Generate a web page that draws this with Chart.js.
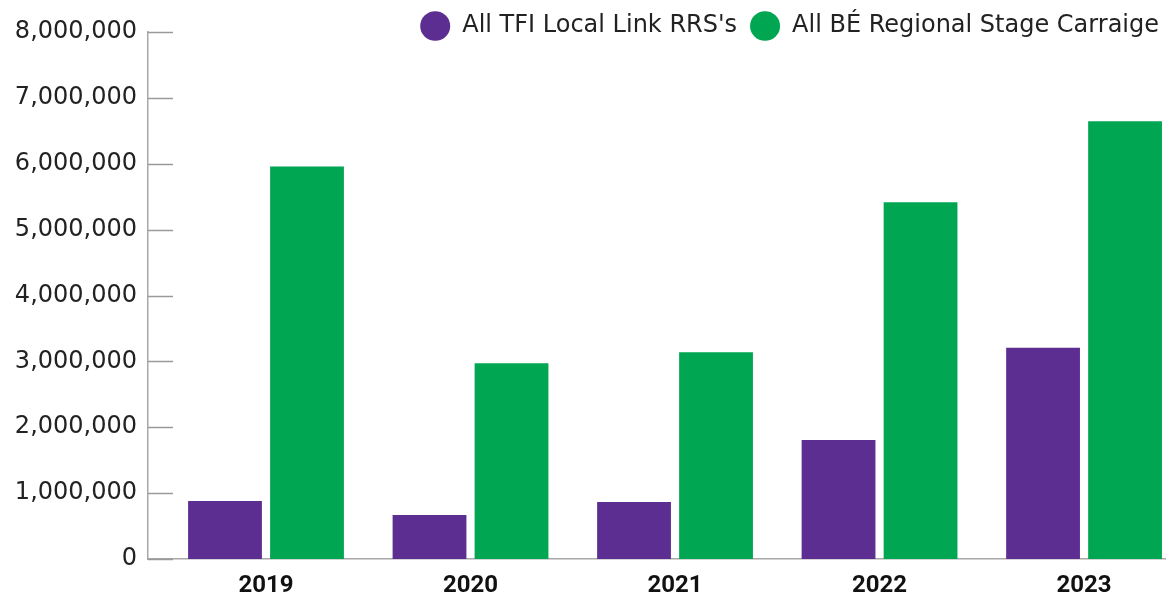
<!DOCTYPE html>
<html>
<head>
<meta charset="utf-8">
<script src="https://cdn.jsdelivr.net/npm/chart.js@4"></script>
<style>
  html, body { margin: 0; padding: 0; background: #fff; overflow: hidden; }
  #clip { width: 1166px; height: 596px; overflow: hidden; }
  #wrap { width: 1172px; height: 596px; position: relative; }
</style>
</head>
<body>
<div id="clip"><div id="wrap"><canvas id="chart"></canvas></div></div>
<script>
const years = ["2019", "2020", "2021", "2022", "2023"];
const localLink = [880000, 668000, 865000, 1806000, 3206000];
const regional = [5960000, 2970000, 3140000, 5417000, 6646000];
const seriesNames = ["All TFI Local Link RRS's", "All BÉ Regional Stage Carraige"];
const yTicks = [0, 1000000, 2000000, 3000000, 4000000, 5000000, 6000000, 7000000, 8000000];

// short tick marks pointing into the plot, like the original
const innerTicks = {
  id: "innerTicks",
  afterLayout(chart) {
    // legend sits beside the top of the axis, not above it
    chart.legend.top += 16;
    chart.legend.bottom += 16;
  },
  afterDatasetsDraw(chart) {
    const y = chart.scales.y;
    const ctx = chart.ctx;
    ctx.save();
    ctx.strokeStyle = "#9a9a9a";
    ctx.lineWidth = 1.5;
    y.ticks.forEach(function (t) {
      const py = Math.round(y.getPixelForValue(t.value)) + 0.5;
      ctx.beginPath();
      ctx.moveTo(y.right, py);
      ctx.lineTo(y.right + 25, py);
      ctx.stroke();
    });
    ctx.restore();
  },
};

const ctx = document.getElementById("chart").getContext("2d");
new Chart(ctx, {
  type: "bar",
  data: {
    datasets: [
      {
        label: seriesNames[0],
        data: localLink.map((v, i) => ({ x: i, y: v })),
        backgroundColor: "#5c2e91",
      },
      {
        label: seriesNames[1],
        data: regional.map((v, i) => ({ x: i, y: v })),
        backgroundColor: "#00a651",
      },
    ],
  },
  options: {
    responsive: true,
    maintainAspectRatio: false,
    animation: false,
    categoryPercentage: 0.802,
    barPercentage: 0.9,
    layout: { padding: { top: -15, left: 0, right: 0, bottom: 0 } },
    plugins: {
      tooltip: { enabled: false },
      legend: {
        position: "top",
        align: "end",
        labels: {
          usePointStyle: true,
          pointStyle: "circle",
          pointStyleWidth: 30,
          boxHeight: 21,
          padding: 13,
          color: "#222",
          font: { family: "DejaVu Sans", size: 24 },
        },
      },
    },
    scales: {
      x: {
        type: "linear",
        offset: false,
        min: -0.577,
        max: 4.43,
        grid: { display: false },
        border: { color: "#a8a8a8", width: 1.5 },
        afterBuildTicks: (s) => {
          s.ticks = years.map((_, i) => ({ value: i }));
        },
        afterFit: (s) => {
          s.height = 37;
        },
        ticks: {
          autoSkip: false,
          maxRotation: 0,
          padding: 5,
          color: "#111",
          font: { family: "Roboto", size: 24, weight: "bold" },
          callback: (v) => years[v],
        },
      },
      y: {
        min: 0,
        max: 8000000,
        grid: { display: false, drawTicks: false },
        border: { color: "#a8a8a8", width: 1.5 },
        afterBuildTicks: (s) => {
          s.ticks = yTicks.map((v) => ({ value: v }));
        },
        afterFit: (s) => {
          s.width = 148;
        },
        ticks: {
          padding: 11,
          color: "#222",
          font: { family: "DejaVu Sans", size: 24 },
          callback: (v) => v.toLocaleString("en-US"),
        },
      },
    },
  },
  plugins: [innerTicks],
});
</script>
</body>
</html>
